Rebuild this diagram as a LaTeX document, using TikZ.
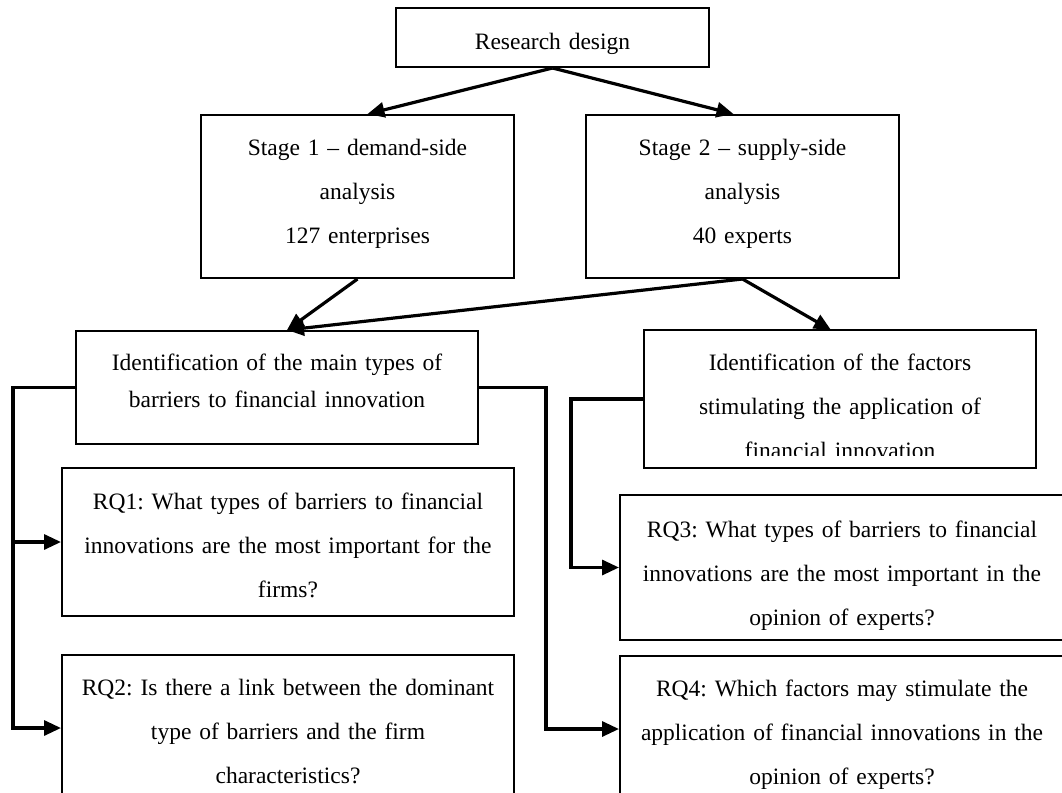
\documentclass[tikz,border=0pt]{standalone}
\usepackage{fontspec}
\setmainfont{Liberation Serif}
\usepackage{tikz}
\usetikzlibrary{arrows.meta}
\frenchspacing

\tikzset{
  box/.style={draw, line width=2pt, inner sep=0pt, align=center, anchor=north west,
    font=\fontsize{23.5}{44}\selectfont},
  conn/.style={line width=3.2pt},
  tip/.style={-{Triangle[length=17pt,width=15pt]}}
}

\begin{document}
\begin{tikzpicture}[x=1pt, y=-1pt]
\useasboundingbox (0,0) rectangle (1062,792);
\def\xl{13}
\def\xm{546}
\def\xr{571}

\node[box, text width=313pt, text height=41pt, text depth=18pt] (rd) at (395,7) {Research design};

\node[box, text width=313pt, text height=40pt, text depth=123pt] (a) at (200,114)
  {Stage 1 – demand-side\\ analysis\\ 127 enterprises};
\node[box, text width=313pt, text height=40pt, text depth=123pt] (b) at (585,114)
  {Stage 2 – supply-side\\ analysis\\ 40 experts};

\node[box, font=\fontsize{23.5}{37}\selectfont, text width=402pt, text height=39pt, text depth=74pt] (c) at (75,330)
  {Identification of the main types of\\ barriers to financial innovation};

\begin{scope}
\clip (644,330) rectangle (1034,455);
\node[box, draw=none, text width=390pt, text height=39pt, text depth=97pt] (d) at (644,330)
  {Identification of the factors\\ stimulating the application of\\ financial innovation};
\end{scope}
\draw[line width=2pt] (d.north west) rectangle (d.south east);

\node[box, text width=452pt, text height=41pt, text depth=107pt] (q1) at (61,467)
  {RQ1: What types of barriers to financial\\ innovations are the most important for the\\ firms?};
\node[box, text width=452pt, text height=40pt, text depth=106pt] (q2) at (61,654)
  {RQ2: Is there a link between the dominant\\ type of barriers and the firm\\ characteristics?};
\node[box, text width=444pt, text height=42pt, text depth=103pt] (q3) at (619,494)
  {RQ3: What types of barriers to financial\\ innovations are the most important in the\\ opinion of experts?};
\node[box, text width=444pt, text height=40pt, text depth=106pt] (q4) at (619,655)
  {RQ4: Which factors may stimulate the\\ application of financial innovations in the\\ opinion of experts?};

\coordinate (l) at (\xl,0);
\coordinate (m) at (\xm,0);
\coordinate (r) at (\xr,0);

\draw[conn, tip] (rd.south) -- ([xshift=10pt]a.north);
\draw[conn, tip] (rd.south) -- ([xshift=-9pt]b.north);
\draw[conn, tip] (a.south) -- ([xshift=10pt]c.north);
\draw[conn, tip] (b.south) -- ([xshift=10pt]c.north);
\draw[conn, tip] (b.south) -- ([xshift=-9pt]d.north);

\draw[conn, tip] (c.west) -- (c.west -| l) |- (q2.west);
\draw[conn, tip] (l |- q1.west) -- (q1.west);
\draw[conn, tip] (c.east) -- (c.east -| m) |- (q4.west);
\draw[conn, tip] (d.west) -- (d.west -| r) |- (q3.west);
\end{tikzpicture}
\end{document}
